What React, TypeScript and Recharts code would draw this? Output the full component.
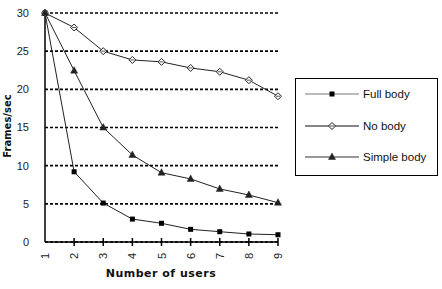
import React from 'react';
import { LineChart, Line, XAxis, YAxis, CartesianGrid, Label } from 'recharts';

const users = [1, 2, 3, 4, 5, 6, 7, 8, 9];
const fullBody = [30, 9.2, 5.1, 3.0, 2.45, 1.66, 1.35, 1.05, 0.95];
const noBody = [30, 28.1, 25.0, 23.85, 23.6, 22.8, 22.3, 21.2, 19.1];
const simpleBody = [30, 22.45, 15.0, 11.4, 9.08, 8.26, 6.95, 6.16, 5.15];
const yTicks = [0, 5, 10, 15, 20, 25, 30];
const seriesNames = ['Full body', 'No body', 'Simple body'];

const data = users.map((u, i) => ({
  users: u,
  full: fullBody[i],
  none: noBody[i],
  simple: simpleBody[i],
}));

const FONT = '"Liberation Sans", Arial, sans-serif';
const BOLD = '"DejaVu Sans", sans-serif';

const SquareDot = (p: any) => {
  const { cx, cy } = p;
  if (cx == null || cy == null) return null;
  return <rect x={cx - 2.5} y={cy - 2.5} width={5} height={5} fill="#000" />;
};

const DiamondDot = (p: any) => {
  const { cx, cy } = p;
  if (cx == null || cy == null) return null;
  return (
    <g>
      <path d={`M${cx},${cy - 3.5} L${cx + 3.5},${cy} L${cx},${cy + 3.5} L${cx - 3.5},${cy} Z`} fill="#fff" stroke="#222" strokeWidth={1} />
      <line x1={cx - 2} y1={cy} x2={cx + 2} y2={cy} stroke="#555" strokeWidth={1} />
    </g>
  );
};

const TriDot = (p: any) => {
  const { cx, cy } = p;
  if (cx == null || cy == null) return null;
  return <path d={`M${cx},${cy - 4} L${cx + 3.5},${cy + 2.5} L${cx - 3.5},${cy + 2.5} Z`} fill="#222" stroke="#222" strokeWidth={0.5} />;
};

const XTick = (p: any) => {
  const { x, y, payload } = p;
  return (
    <g>
      {payload.value !== 1 && (
        <line x1={x} y1={y - 8} x2={x} y2={y} stroke="#000" strokeWidth={1.5} />
      )}
      <text
        x={x + 4}
        y={y + 10}
        transform={`rotate(-90 ${x + 4} ${y + 10})`}
        textAnchor="middle"
        fontFamily={FONT}
        fontSize={11}
        fill="#222"
      >
        {payload.value}
      </text>
    </g>
  );
};

const YTitle = (p: any) => {
  const cx = 7;
  const cy = 126;
  return (
    <text
      x={cx + 4}
      y={cy}
      transform={`rotate(-90 ${cx + 4} ${cy})`}
      textAnchor="middle"
      fontFamily={BOLD}
      fontWeight="bold"
      fontSize={10}
      fill="#111"
    >
      Frames/sec
    </text>
  );
};

const XTitle = (p: any) => {
  return (
    <text
      x={161}
      y={277}
      textAnchor="middle"
      fontFamily={BOLD}
      fontWeight="bold"
      fontSize={11}
      letterSpacing={0.5}
      fill="#111"
    >
      Number of users
    </text>
  );
};

const LegendBox = () => {
  const rows = [
    { name: seriesNames[0], y: 16, dot: 'sq', stroke: '#777' },
    { name: seriesNames[1], y: 48, dot: 'di', stroke: '#111' },
    { name: seriesNames[2], y: 79, dot: 'tr', stroke: '#333' },
  ];
  return (
    <svg width={144} height={99} style={{ position: 'absolute', left: 295, top: 78 }}>
      <rect x={0.5} y={0.5} width={142} height={97} fill="#fff" stroke="#000" strokeWidth={1} />
      {rows.map((r) => (
        <g key={r.name}>
          <line x1={10} y1={r.y} x2={64} y2={r.y} stroke={r.stroke} strokeWidth={1} />
          {r.dot === 'sq' && <SquareDot cx={37} cy={r.y} />}
          {r.dot === 'di' && <DiamondDot cx={37} cy={r.y} />}
          {r.dot === 'tr' && <TriDot cx={37} cy={r.y} />}
          <text x={68} y={r.y + 4} fontFamily={FONT} fontSize={11.5} fill="#111">
            {r.name}
          </text>
        </g>
      ))}
    </svg>
  );
};

export default function App() {
  return (
    <div style={{ position: 'absolute', left: 0, top: 0, width: 442, height: 289, background: '#fff' }}>
      <LineChart width={442} height={289} data={data} margin={{ top: 13, right: 164, bottom: 17, left: 0 }}>
        <CartesianGrid horizontal vertical={false} stroke="#000" strokeDasharray="3 2" strokeWidth={1.6} />
        <XAxis
          dataKey="users"
          type="number"
          domain={[1, 9]}
          ticks={users}
          height={30}
          tickSize={4}
          tickMargin={0}
          tickLine={false}
          axisLine={{ stroke: '#000', strokeWidth: 1.5 }}
          tick={<XTick />}
          interval={0}
        >
          <Label content={<XTitle />} />
        </XAxis>
        <YAxis
          type="number"
          domain={[0, 30]}
          ticks={yTicks}
          width={45}
          tickLine={false}
          tickSize={0}
          tickMargin={16}
          axisLine={{ stroke: '#000', strokeWidth: 1.5 }}
          tick={{ fontFamily: FONT, fontSize: 11, fill: '#222' }}
          interval={0}
        >
          <Label content={<YTitle />} />
        </YAxis>
        <Line type="linear" dataKey="full" name={seriesNames[0]} stroke="#222" strokeWidth={1} dot={<SquareDot />} isAnimationActive={false} />
        <Line type="linear" dataKey="none" name={seriesNames[1]} stroke="#222" strokeWidth={1} dot={<DiamondDot />} isAnimationActive={false} />
        <Line type="linear" dataKey="simple" name={seriesNames[2]} stroke="#222" strokeWidth={1} dot={<TriDot />} isAnimationActive={false} />
      </LineChart>
      <LegendBox />
    </div>
  );
}
